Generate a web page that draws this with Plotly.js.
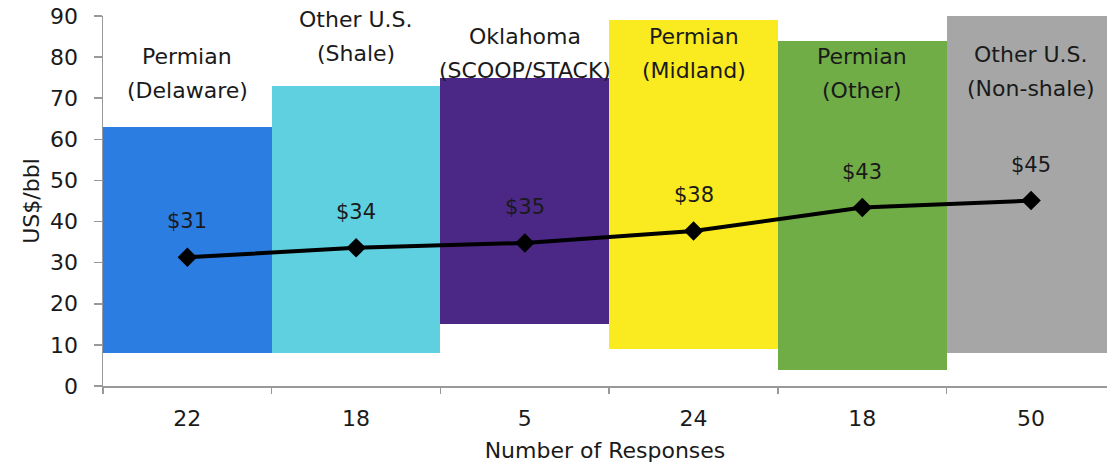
<!DOCTYPE html>
<html>
<head>
<meta charset="utf-8">
<script src="https://cdn.plot.ly/plotly-3.0.1.min.js"></script>
<style>html,body{margin:0;padding:0;background:#fff;}#chart{width:1107px;height:467px;}</style>
</head>
<body>
<div id="chart"></div>
<script>
// ---- data ----
const regions = ["Permian<br>(Delaware)", "Other U.S.<br>(Shale)", "Oklahoma<br>(SCOOP/STACK)", "Permian<br>(Midland)", "Permian<br>(Other)", "Other U.S.<br>(Non-shale)"];
const responses = ["22", "18", "5", "24", "18", "50"];
const lowPrice = [8, 8, 15, 9, 4, 8];
const highPrice = [63, 73, 75, 89, 84, 90];
const avgPrice = [31.3, 33.6, 34.8, 37.7, 43.4, 45.1];
const avgLabels = ["$31", "$34", "$35", "$38", "$43", "$45"];

// ---- styling ----
const barColors = ["#2B7DE1", "#5ED0E0", "#4B2885", "#F9EB1F", "#70AD47", "#A6A6A6"];
const labelLevels = [75.9, 85.1, 80.9, 80.8, 76.1, 76.6]; // y (data units) of region label centres
const FONT = "DejaVu Sans, sans-serif";
const TXT = "#1a1a1a";

const bars = {
  type: "bar",
  x: regions,
  base: lowPrice,
  y: highPrice.map((h, i) => h - lowPrice[i]),
  width: 1,
  marker: {color: barColors, line: {width: 0}},
  hoverinfo: "skip",
  showlegend: false
};

const line = {
  type: "scatter",
  mode: "lines+markers",
  x: regions,
  y: avgPrice,
  line: {color: "#000", width: 4},
  marker: {symbol: "diamond", size: 15, color: "#000"},
  hoverinfo: "skip",
  showlegend: false
};

const annotations = [];
regions.forEach((r, i) => {
  const lines = r.split("<br>");
  lines.forEach((t, j) => {
    annotations.push({
      x: r, y: labelLevels[i], xref: "x", yref: "y",
      text: t, showarrow: false,
      yshift: ((lines.length - 1) / 2 - j) * 34,
      font: {family: FONT, size: 22, color: TXT}
    });
  });
  annotations.push({
    x: r, y: avgPrice[i], xref: "x", yref: "y",
    text: avgLabels[i], showarrow: false, yshift: 36,
    font: {family: FONT, size: 21, color: TXT}
  });
});

const layout = {
  width: 1107, height: 467,
  margin: {l: 103, r: 0, t: 16, b: 81, pad: 0},
  paper_bgcolor: "#fff", plot_bgcolor: "#fff",
  font: {family: FONT, size: 22, color: TXT},
  bargap: 0,
  xaxis: {
    type: "category",
    range: [-0.5, 5.45],
    tickvals: regions, ticktext: responses,
    tickson: "boundaries",
    ticks: "outside", ticklen: 6, tickcolor: "#999", tickwidth: 1.5,
    ticklabelstandoff: 12,
    showline: true, linecolor: "#999", linewidth: 1.5,
    showgrid: false, zeroline: false,
    tickfont: {family: FONT, size: 22, color: TXT},
    title: {text: "Number of Responses", font: {family: FONT, size: 22, color: TXT}, standoff: 12}
  },
  yaxis: {
    range: [0, 90],
    tickvals: [0, 10, 20, 30, 40, 50, 60, 70, 80, 90],
    ticks: "outside", ticklen: 8, tickcolor: "#999", tickwidth: 1.5,
    ticklabelstandoff: 11,
    showline: true, linecolor: "#999", linewidth: 1.5,
    showgrid: false, zeroline: false,
    tickfont: {family: FONT, size: 22, color: TXT},
    title: {text: "US$/bbl", font: {family: FONT, size: 22, color: TXT}, standoff: 4}
  },
  annotations: annotations
};

Plotly.newPlot("chart", [bars, line], layout, {staticPlot: true, displayModeBar: false});
</script>
</body>
</html>
